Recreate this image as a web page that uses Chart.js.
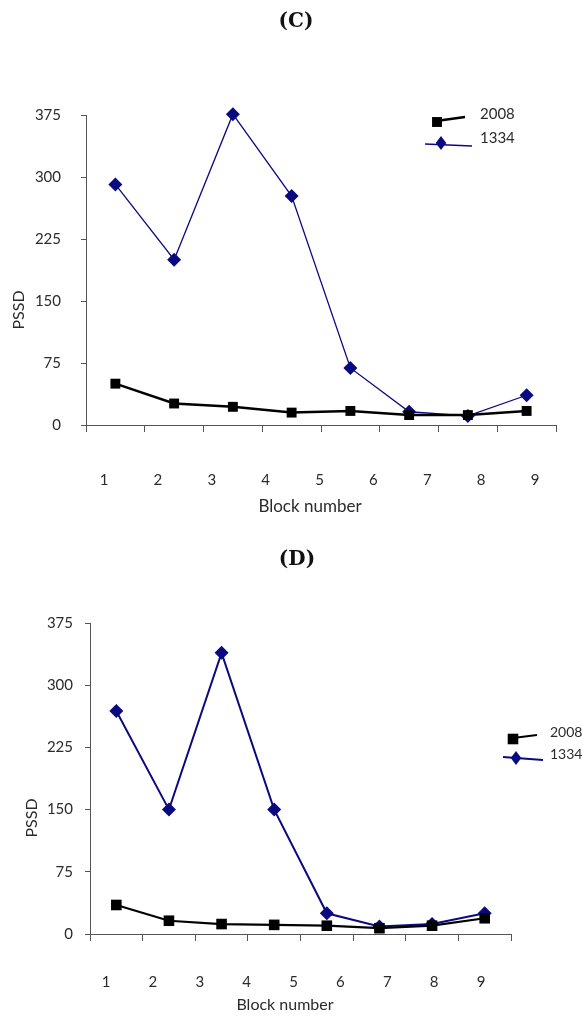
<!DOCTYPE html>
<html>
<head>
<meta charset="utf-8">
<script src="https://cdn.jsdelivr.net/npm/chart.js@4.4.0/dist/chart.umd.min.js"></script>
<style>
  html, body { margin: 0; padding: 0; background: #fff; }
  body { width: 583px; height: 1019px; position: relative; overflow: hidden; }
  .panel { position: absolute; left: 0; width: 583px; }
  #panelC { top: 0; height: 530px; }
  #panelD { top: 530px; height: 489px; }
</style>
</head>
<body>
<div class="panel" id="panelC"><canvas id="chartC"></canvas></div>
<div class="panel" id="panelD"><canvas id="chartD"></canvas></div>
<script>
// data
const blocks = ['1', '2', '3', '4', '5', '6', '7', '8'];
const tickLabels = [1, 2, 3, 4, 5, 6, 7, 8, 9];
const yTicks = [0, 75, 150, 225, 300, 375];
const seriesNames = ['2008', '1334'];
const c2008 = [50, 26, 22, 15, 17, 12, 12, 17];
const c1334 = [291, 200, 376, 277, 69, 16, 11, 36];
const d2008 = [35, 16, 12, 11, 10, 7, 10, 19];
const d1334 = [269, 150, 339, 150, 25, 9, 12, 25];

const NAVY = '#0a0a80';
const TXT = '#2b2b2b';
const AXIS = '#555';

// free text + little legend drawn straight on the canvas
const notesPlugin = {
    id: 'notes',
    afterDraw(chart, args, opts) {
        const ctx = chart.ctx;
        (opts.texts || []).forEach(t => {
            ctx.save();
            ctx.font = t.font;
            ctx.fillStyle = t.color || TXT;
            ctx.textAlign = t.align || 'center';
            ctx.textBaseline = 'middle';
            ctx.translate(t.x, t.y);
            if (t.rotate) ctx.rotate(t.rotate);
            ctx.fillText(t.text, 0, 0);
            ctx.restore();
        });
        if (!opts.legend) return;
        chart.data.datasets.forEach((ds, i) => {
            const it = opts.legend.items[i];
            ctx.save();
            ctx.strokeStyle = ds.borderColor;
            ctx.lineWidth = ds.borderWidth;
            ctx.beginPath();
            ctx.moveTo(it.x0, it.y0);
            ctx.lineTo(it.x1, it.y1);
            ctx.stroke();
            ctx.fillStyle = ds.pointBackgroundColor;
            const r = ds.pointRadius;
            ctx.beginPath();
            if (ds.pointStyle === 'rect') {
                const s = r * Math.SQRT1_2;
                ctx.rect(it.mx - s, it.my - s, 2 * s, 2 * s);
            } else {
                ctx.moveTo(it.mx, it.my - r);
                ctx.lineTo(it.mx + r * 0.75, it.my);
                ctx.lineTo(it.mx, it.my + r);
                ctx.lineTo(it.mx - r * 0.75, it.my);
                ctx.closePath();
            }
            ctx.fill();
            ctx.font = opts.legend.font;
            ctx.fillStyle = TXT;
            ctx.textAlign = 'left';
            ctx.textBaseline = 'middle';
            ctx.fillText(ds.label, opts.legend.tx, it.ty);
            ctx.restore();
        });
    }
};

function makeChart(id, cfg) {
    const ctx = document.getElementById(id).getContext('2d');
    return new Chart(ctx, {
        type: 'line',
        data: {
            labels: blocks,
            datasets: [{
                label: seriesNames[0],
                data: cfg.black,
                borderColor: '#000',
                backgroundColor: '#000',
                pointBackgroundColor: '#000',
                pointBorderWidth: 0,
                borderWidth: cfg.blackWidth,
                pointStyle: 'rect',
                pointRadius: cfg.sqR,
                tension: 0,
                clip: false
            }, {
                label: seriesNames[1],
                data: cfg.blue,
                borderColor: NAVY,
                backgroundColor: NAVY,
                pointBackgroundColor: NAVY,
                pointBorderWidth: 0,
                borderWidth: cfg.blueWidth,
                pointStyle: 'rectRot',
                pointRadius: cfg.dmR,
                tension: 0,
                clip: false
            }]
        },
        options: {
            responsive: true,
            maintainAspectRatio: false,
            animation: false,
            layout: { padding: { top: cfg.top, right: cfg.right, left: 0, bottom: 0 } },
            plugins: {
                legend: { display: false },
                tooltip: { enabled: false },
                notes: { texts: cfg.texts, legend: cfg.legend }
            },
            scales: {
                x: {
                    type: 'category',
                    offset: true,
                    grid: {
                        offset: true, drawOnChartArea: false, tickLength: 7,
                        color: c => (cfg.hideLastTick && c.index === blocks.length) ? 'rgba(0,0,0,0)' : AXIS
                    },
                    border: { color: AXIS, width: 1 },
                    ticks: { display: false },
                    afterFit: s => { s.height = 8; }
                },
                xl: {
                    type: 'linear',
                    position: 'bottom',
                    weight: 1,
                    min: cfg.xlMin,
                    max: cfg.xlMax,
                    grid: { display: false, drawTicks: false },
                    border: { display: false },
                    afterBuildTicks: s => { s.ticks = tickLabels.map(v => ({ value: v })); },
                    ticks: {
                        color: TXT, padding: cfg.xlPad,
                        font: { family: 'Lato', size: 15 },
                        callback: v => String(v)
                    },
                    afterFit: s => { s.height = cfg.xlHeight; }
                },
                y: {
                    min: 0,
                    max: 375,
                    afterBuildTicks: s => { s.ticks = yTicks.map(v => ({ value: v })); },
                    grid: { drawOnChartArea: false, tickLength: 5, color: AXIS },
                    border: { color: AXIS, width: 1 },
                    ticks: { color: TXT, padding: cfg.yPad, font: { family: 'Lato', size: 15 } },
                    afterFit: s => { s.width = cfg.yWidth; }
                }
            }
        },
        plugins: [notesPlugin]
    });
}

makeChart('chartC', {
    black: c2008, blue: c1334,
    blackWidth: 2.5, blueWidth: 1.3, sqR: 7, dmR: 7,
    top: 115, right: 27, yWidth: 86, xlHeight: 97, xlPad: 38,
    xlMin: 0.666, xlMax: 9.39, yPad: 20,
    texts: [
        { text: '(C)', x: 296, y: 22, font: 'bold 20px "DejaVu Serif"', color: '#111' },
        { text: 'PSSD', x: 19, y: 310, font: '16px Lato', rotate: -Math.PI / 2 },
        { text: 'Block number', x: 310, y: 507, font: '17px Lato' }
    ],
    legend: {
        font: '15px Lato', tx: 480,
        items: [
            { x0: 436, y0: 121, x1: 465, y1: 117, mx: 437, my: 122, ty: 114 },
            { x0: 425, y0: 144, x1: 472, y1: 146, mx: 441, my: 143, ty: 138 }
        ]
    }
});

makeChart('chartD', {
    black: d2008, blue: d1334,
    blackWidth: 2.2, blueWidth: 2, sqR: 7.5, dmR: 7,
    top: 93, right: 72, yWidth: 90, xlHeight: 77, xlPad: 31,
    xlMin: 0.659, xlMax: 9.64, yPad: 12, hideLastTick: true,
    texts: [
        { text: '(D)', x: 297, y: 30, font: 'bold 20px "DejaVu Serif"', color: '#111' },
        { text: 'PSSD', x: 32, y: 288, font: '16px Lato', rotate: -Math.PI / 2 },
        { text: 'Block number', x: 285, y: 475, font: '16px Lato' }
    ],
    legend: {
        font: '14px Lato', tx: 550,
        items: [
            { x0: 513, y0: 208, x1: 537, y1: 205, mx: 513, my: 209, ty: 202 },
            { x0: 503, y0: 227, x1: 543, y1: 230, mx: 516, my: 228, ty: 224 }
        ]
    }
});
</script>
</body>
</html>
